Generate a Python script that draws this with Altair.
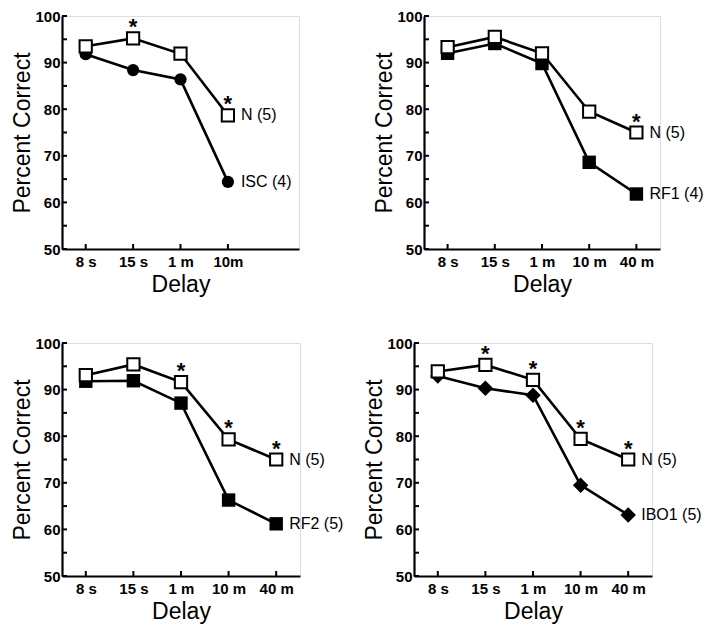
import altair as alt
import pandas as pd

# ---- data ----
delays = ["8 s", "15 s", "1 m", "10 m", "40 m"]
y_ticks = [50, 55, 60, 65, 70, 75, 80, 85, 90, 95, 100]
y_labels = [50, 60, 70, 80, 90, 100]

isc_normal = [93.5, 95.2, 91.9, 78.7]
isc_lesion = [91.8, 88.4, 86.4, 64.4]
isc_stars = ["15 s", "10 m"]

rf1_normal = [93.3, 95.5, 92.0, 79.5, 75.0]
rf1_lesion = [92.0, 94.1, 89.8, 68.6, 61.8]
rf1_stars = ["40 m"]

rf2_normal = [93.1, 95.4, 91.6, 79.3, 75.0]
rf2_lesion = [91.8, 91.9, 87.1, 66.3, 61.2]
rf2_stars = ["1 m", "10 m", "40 m"]

ibo_normal = [93.9, 95.3, 92.1, 79.4, 75.0]
ibo_lesion = [92.9, 90.3, 88.8, 69.5, 63.1]
ibo_stars = ["15 s", "1 m", "10 m", "40 m"]

normal_label = "N (5)"

FONT = "Liberation Sans"
H = 233


def make_panel(normal, lesion, lesion_label, shape, lesion_size, stars,
               width, height, short_axis=False):
    n = len(normal)
    d = delays[:n]
    df_n = pd.DataFrame({"delay": d, "value": normal})
    df_l = pd.DataFrame({"delay": d, "value": lesion})
    df_s = df_n[df_n["delay"].isin(stars)]
    df_lab = pd.DataFrame({
        "delay": [d[-1], d[-1]],
        "value": [normal[-1], lesion[-1]],
        "label": [normal_label, lesion_label],
    })
    df_yt = pd.DataFrame({"value": y_ticks})
    df_xt = pd.DataFrame({"delay": d})

    label_expr = "datum.label"
    if short_axis:
        label_expr = ("datum.value == '40 m' ? '' : "
                      "(datum.value == '10 m' ? '10m' : datum.label)")

    x_enc = alt.X("delay:N", sort=delays,
                  scale=alt.Scale(type="point", domain=delays, padding=0.5),
                  axis=alt.Axis(title="Delay", labelAngle=0, tickSize=0,
                                labelPadding=5, labelFont=FONT,
                                labelFontSize=15, labelFontWeight="bold",
                                labelColor="black", titleFont=FONT,
                                titleFontSize=23, titleFontWeight="normal",
                                titleColor="black", titlePadding=4,
                                domainColor="black", domainWidth=2.2,
                                grid=False, labelExpr=label_expr))
    y_enc = alt.Y("value:Q",
                  scale=alt.Scale(domain=[50, 100], nice=False, zero=False),
                  axis=alt.Axis(title="Percent Correct", values=y_labels,
                                tickSize=0, labelPadding=2, labelFont=FONT,
                                labelFontSize=15, labelFontWeight="bold",
                                labelColor="black", titleFont=FONT,
                                titleFontSize=23, titleFontWeight="normal",
                                titleColor="black", titlePadding=0,
                                domainColor="black", domainWidth=2.2,
                                grid=False))

    line_n = alt.Chart(df_n).mark_line(color="black", strokeWidth=2.6).encode(x=x_enc, y=y_enc)
    line_l = alt.Chart(df_l).mark_line(color="black", strokeWidth=2.6).encode(x=x_enc, y=y_enc)
    pts_l = alt.Chart(df_l).mark_point(shape=shape, filled=True, fill="black",
                                       color="black", size=lesion_size,
                                       opacity=1).encode(x=x_enc, y=y_enc)
    pts_n = alt.Chart(df_n).mark_point(shape="square", filled=True, fill="white",
                                       stroke="black", strokeWidth=2, size=150,
                                       opacity=1).encode(x=x_enc, y=y_enc)
    star = alt.Chart(df_s).mark_text(text="*", font=FONT, fontSize=22,
                                     fontWeight="bold", color="black",
                                     baseline="alphabetic", dy=-4).encode(x=x_enc, y=y_enc)
    labels = alt.Chart(df_lab).mark_text(font=FONT, fontSize=16, color="black",
                                         align="left", baseline="middle",
                                         dx=13).encode(x=x_enc, y=y_enc, text="label:N")
    ytick = alt.Chart(df_yt).mark_rule(color="black", strokeWidth=2).encode(
        y=y_enc, x=alt.value(0), x2=alt.value(5))
    xtick = alt.Chart(df_xt).mark_rule(color="black", strokeWidth=2).encode(
        x=x_enc, y=alt.value(height), y2=alt.value(height - 5))

    return alt.layer(line_l, line_n, pts_l, pts_n, star, labels, ytick, xtick).properties(
        width=width, height=height)


p1 = make_panel(isc_normal, isc_lesion, "ISC (4)", "circle", 150, isc_stars, 237, H, short_axis=True)
p2 = make_panel(rf1_normal, rf1_lesion, "RF1 (4)", "square", 180, rf1_stars, 236, H)
p3 = make_panel(rf2_normal, rf2_lesion, "RF2 (5)", "square", 180, rf2_stars, 238, H)
p4 = make_panel(ibo_normal, ibo_lesion, "IBO1 (5)", "diamond", 240, ibo_stars, 238, H)

top = alt.hconcat(p1, p2, spacing=73)
bottom = alt.hconcat(p3, p4, spacing=19)

chart = alt.vconcat(top, bottom, spacing=38).properties(
    padding={"left": 3, "top": 0, "right": 0, "bottom": 0}
).configure_view(strokeWidth=0).configure(background="white")

chart.save("out.html", embed_options={"renderer": "svg", "actions": False})
